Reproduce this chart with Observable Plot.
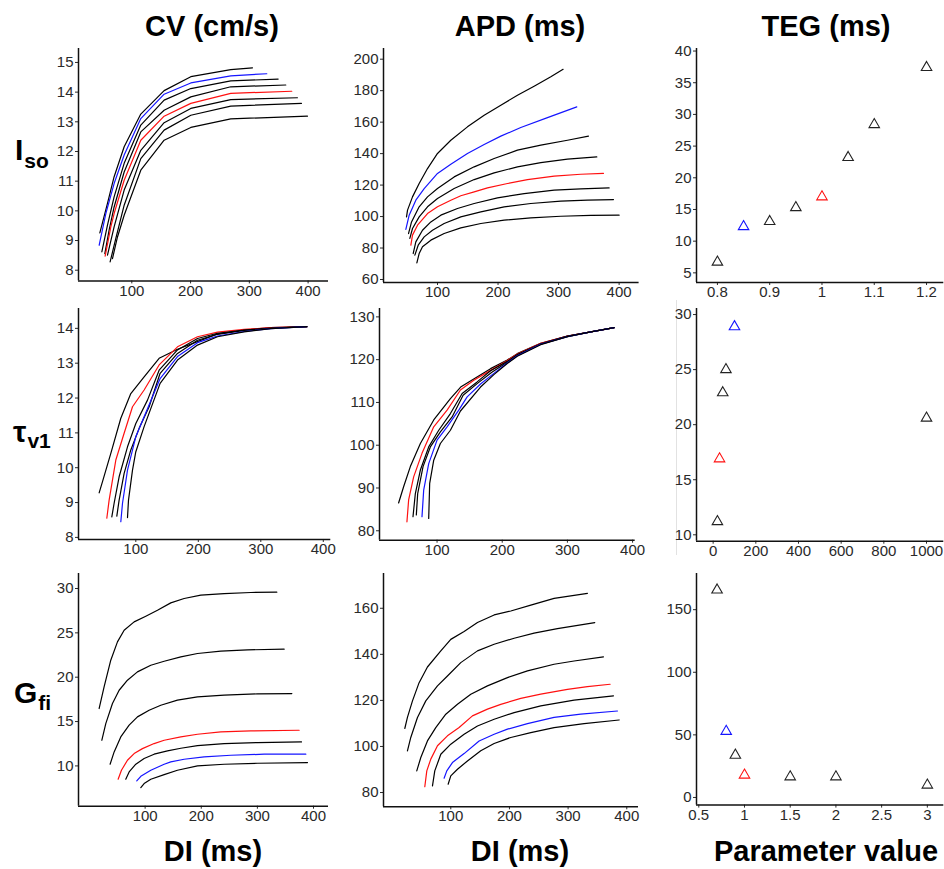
<!DOCTYPE html>
<html>
<head>
<meta charset="utf-8">
<script src="https://cdn.jsdelivr.net/npm/d3@7"></script>
<script src="https://cdn.jsdelivr.net/npm/@observablehq/plot@0.6"></script>
<style>
  html, body { margin: 0; padding: 0; background: #fff; }
  #root { position: relative; width: 944px; height: 869px; overflow: hidden; background: #fff; }
  #root svg.panel { position: absolute; overflow: visible; }
</style>
</head>
<body>
<div id="root"></div>
<script>
// ---------------- DATA ----------------
// Row 1: I_so
const isoParam = [0.8, 0.85, 0.9, 0.95, 1, 1.05, 1.1, 1.2];
const isoTEG = [6.7, 12.3, 13.1, 15.3, 17.0, 23.2, 28.4, 37.4];
const isoCV_DI = [
  [45.6, 58.6, 69.9, 87.0, 115.3, 155.0, 200.4, 268.4, 305.3],
  [44.4, 55.8, 69.9, 87.0, 115.3, 155.0, 200.4, 268.4, 329.7],
  [49.0, 58.6, 69.9, 87.0, 115.3, 155.0, 200.4, 268.4, 349.0],
  [54.1, 61.4, 69.9, 87.0, 115.3, 155.0, 200.4, 268.4, 362.0],
  [54.6, 64.3, 69.9, 87.0, 115.3, 155.0, 200.4, 268.4, 372.2],
  [58.6, 69.9, 87.0, 115.3, 155.0, 200.4, 268.4, 381.8],
  [63.1, 72.8, 87.0, 115.3, 155.0, 200.4, 268.4, 388.6],
  [67.1, 75.6, 87.0, 115.3, 155.0, 200.4, 268.4, 398.9]
];
const isoCV = [
  [9.26, 10.25, 11.15, 12.16, 13.26, 14.05, 14.52, 14.76, 14.82],
  [8.84, 9.91, 10.92, 11.88, 13.11, 13.93, 14.31, 14.55, 14.62],
  [8.62, 9.52, 10.47, 11.60, 12.89, 13.73, 14.12, 14.38, 14.44],
  [8.56, 9.35, 10.13, 11.31, 12.66, 13.39, 13.84, 14.18, 14.24],
  [8.47, 9.46, 9.91, 11.03, 12.38, 13.19, 13.62, 13.96, 14.03],
  [8.51, 9.46, 10.70, 12.04, 12.97, 13.45, 13.75, 13.81],
  [8.28, 9.07, 10.19, 11.76, 12.72, 13.22, 13.53, 13.62],
  [8.39, 9.12, 9.85, 11.37, 12.38, 12.81, 13.10, 13.19]
];
const isoAPD_DI = [
  [48.8, 50.5, 58.7, 69.7, 83.5, 100, 122.0, 149.5, 177.1, 204.6, 232.1, 259.6, 287.2, 307.5],
  [47.7, 53.2, 64.2, 78.0, 100, 122.0, 149.5, 177.1, 204.6, 237.6, 281.7, 330.1],
  [52.1, 57.1, 69.7, 83.5, 100, 127.5, 160.6, 193.6, 232.1, 270.7, 314.7, 349.4],
  [54.3, 58.7, 69.7, 83.5, 100, 127.5, 160.6, 193.6, 232.1, 270.7, 314.7, 363.1],
  [56.0, 58.7, 67.0, 83.5, 100, 122.0, 138.5, 160.6, 182.6, 215.6, 248.6, 292.7, 336.7, 374.1],
  [59.8, 64.2, 75.2, 89.0, 105.5, 133.0, 160.6, 199.1, 243.1, 292.7, 336.7, 383.5],
  [62.6, 68.1, 78.0, 91.7, 111.0, 138.5, 171.6, 210.1, 254.1, 303.7, 347.7, 390.7],
  [65.9, 69.7, 75.2, 89.0, 111.0, 138.5, 171.6, 210.1, 254.1, 303.7, 353.2, 400]
];
const isoAPD = [
  [99.8, 104.1, 112.5, 121.0, 130.5, 140.1, 148.5, 157.0, 164.4, 170.8, 177.1, 182.8, 188.8, 193.6],
  [91.8, 100.9, 110.4, 117.8, 127.4, 133.3, 140.1, 145.8, 151.1, 156.6, 162.9, 169.7],
  [89.2, 96.6, 106.2, 112.5, 117.8, 125.2, 131.6, 136.9, 142.2, 145.4, 148.5, 151.1],
  [86.1, 92.4, 99.8, 106.2, 111.5, 117.8, 123.5, 127.8, 131.6, 134.3, 136.5, 137.9],
  [81.8, 88.2, 94.5, 101.9, 106.2, 110.4, 113.2, 115.7, 118.2, 121.0, 123.5, 125.7, 126.9, 127.4],
  [76.5, 83.9, 91.3, 96.6, 100.9, 105.1, 108.3, 111.9, 114.6, 116.8, 117.6, 118.2],
  [75.5, 81.8, 87.1, 91.3, 95.6, 99.8, 103.0, 106.2, 108.3, 109.8, 110.4, 110.8],
  [70.6, 76.5, 80.8, 85.0, 89.2, 92.8, 95.6, 97.7, 99.2, 100.2, 100.7, 100.9]
];
const isoColor = ["#000", "#1515ff", "#000", "#000", "#ff1010", "#000", "#000", "#000"];

// Row 2: tau_v1
const tauParam = [20, 30, 45, 60, 100, 1000];
const tauTEG = [11.2, 16.9, 22.9, 25.0, 28.9, 20.6];
const tauCV_DI = [
  [41.3, 46.7, 60.0, 76.0, 92.0, 113.3, 137.3, 166.7, 198.7, 230.7, 273.3, 316.0, 373.6],
  [53.6, 57.3, 68.0, 81.3, 94.7, 113.3, 137.3, 166.7, 198.7, 230.7, 273.3, 316.0, 373.6],
  [61.6, 65.3, 73.3, 86.7, 100, 118.7, 137.3, 166.7, 198.7, 230.7, 273.3, 316.0, 373.6],
  [69.6, 73.3, 81.3, 92.0, 105.3, 121.3, 138.9, 166.7, 198.7, 230.7, 273.3, 316.0, 373.6],
  [76.0, 78.7, 86.7, 100, 113.3, 138.9, 166.7, 198.7, 230.7, 273.3, 316.0, 373.6],
  [86.7, 88.3, 94.7, 100, 113.3, 138.9, 166.7, 198.7, 230.7, 273.3, 316.0, 373.6]
];
const tauCV = [
  [9.28, 9.60, 10.41, 11.42, 12.13, 12.61, 13.14, 13.40, 13.62, 13.84, 13.95, 14.02, 14.05],
  [8.55, 9.07, 10.22, 10.99, 11.75, 12.23, 12.95, 13.47, 13.76, 13.89, 13.97, 14.02, 14.05],
  [8.59, 8.98, 9.74, 10.60, 11.27, 11.94, 12.80, 13.38, 13.71, 13.86, 13.95, 14.01, 14.05],
  [8.61, 9.07, 9.84, 10.51, 11.13, 11.75, 12.71, 13.28, 13.66, 13.83, 13.94, 14.00, 14.05],
  [8.45, 8.98, 9.93, 10.89, 11.46, 12.56, 13.19, 13.59, 13.78, 13.91, 13.99, 14.05],
  [8.57, 9.07, 9.93, 10.46, 11.18, 12.42, 13.09, 13.52, 13.76, 13.90, 13.99, 14.05]
];
const tauAPD_DI = [
  [41.0, 48.7, 59.0, 74.4, 94.9, 120.5, 136.2, 182.1, 207.7, 223.1, 259.0, 300, 335.9, 371.8],
  [53.8, 56.4, 64.1, 76.9, 94.9, 115.4, 135.9, 156.4, 182.1, 207.7, 223.1, 259.0, 300, 335.9, 371.8],
  [63.1, 66.7, 74.4, 87.2, 102.6, 120.5, 138.5, 161.5, 182.1, 207.7, 223.1, 259.0, 300, 335.9, 371.8],
  [68.2, 70.3, 78.5, 89.7, 105.1, 123.1, 140.0, 161.5, 184.6, 207.7, 223.1, 259.0, 300, 335.9, 371.8],
  [76.9, 79.5, 87.2, 100, 115.4, 133.3, 146.2, 166.7, 187.2, 207.7, 223.1, 259.0, 300, 335.9, 371.8],
  [87.2, 88.7, 94.9, 105.1, 120.5, 135.9, 166.7, 187.2, 207.7, 223.1, 259.0, 300, 335.9, 371.8]
];
const tauAPD = [
  [86.5, 90.3, 95.0, 100.4, 105.9, 110.9, 113.6, 117.9, 119.9, 121.4, 123.8, 125.5, 126.5, 127.5],
  [82.1, 87.2, 92.6, 98.1, 104.3, 108.2, 112.9, 115.2, 117.5, 119.8, 121.3, 123.8, 125.5, 126.5, 127.5],
  [83.3, 88.7, 94.2, 99.6, 103.5, 107.4, 112.1, 114.8, 117.4, 119.6, 121.2, 123.7, 125.5, 126.5, 127.5],
  [83.7, 88.7, 95.0, 99.6, 103.1, 106.6, 111.7, 114.4, 117.1, 119.4, 121.0, 123.6, 125.4, 126.5, 127.5],
  [83.3, 89.5, 95.7, 101.2, 104.3, 108.2, 111.3, 114.3, 116.8, 119.2, 120.9, 123.6, 125.4, 126.5, 127.5],
  [82.9, 91.1, 96.5, 100.4, 103.5, 108.0, 113.6, 116.5, 119.1, 120.8, 123.5, 125.4, 126.5, 127.5]
];
const tauColor = ["#000", "#ff1010", "#000", "#000", "#1515ff", "#000"];

// Row 3: G_fi
const gfiParam = [0.7, 0.8, 0.9, 1, 1.5, 2, 3];
const gfiTEG = [165.7, 52.8, 33.8, 17.9, 16.5, 16.5, 9.9];
const gfiCV_DI = [
  [92.3, 98.2, 110.1, 133.9, 157.6, 193.3, 240.8, 300.2, 389.3],
  [85.1, 92.3, 110.1, 133.9, 145.7, 169.5, 205.1, 252.7, 312.1, 386.3],
  [65.5, 71.5, 83.4, 98.2, 116.0, 139.8, 163.6, 193.3, 240.8, 300.2, 378.6],
  [51.9, 57.8, 68.5, 80.4, 95.2, 116.0, 133.9, 163.6, 193.3, 234.8, 288.3, 374.4],
  [37.6, 44.8, 56.6, 71.5, 86.3, 107.1, 127.9, 157.6, 193.3, 240.8, 300.2, 361.4],
  [22.8, 29.9, 41.8, 53.7, 68.5, 86.3, 110.1, 133.9, 163.6, 193.3, 234.8, 282.4, 347.7],
  [18.0, 26.9, 38.8, 50.7, 62.6, 80.4, 101.2, 122.0, 145.7, 169.5, 199.2, 240.8, 288.3, 334.6]
];
const gfiCV = [
  [7.56, 8.01, 8.50, 9.02, 9.51, 10.0, 10.19, 10.30, 10.38],
  [8.31, 8.83, 9.51, 10.19, 10.45, 10.75, 11.01, 11.20, 11.32, 11.32],
  [8.50, 9.32, 10.19, 10.83, 11.32, 11.69, 11.99, 12.29, 12.52, 12.63, 12.71],
  [8.50, 9.51, 10.64, 11.39, 11.95, 12.52, 12.89, 13.27, 13.57, 13.83, 13.95, 14.02],
  [10.19, 11.58, 13.27, 14.59, 15.53, 16.28, 16.84, 17.41, 17.78, 17.97, 18.12, 18.16],
  [12.89, 14.77, 17.03, 18.53, 19.66, 20.60, 21.35, 21.80, 22.29, 22.67, 22.93, 23.08, 23.16],
  [16.47, 18.91, 21.92, 23.98, 25.30, 26.24, 26.88, 27.55, 28.38, 28.87, 29.25, 29.43, 29.55, 29.58]
];
const gfiAPD_DI = [
  [95.5, 100, 111.4, 128.4, 151.1, 173.9, 202.3, 236.4, 276.1, 327.3, 386.9],
  [88.6, 93.2, 102.8, 122.7, 148.3, 173.9, 196.6, 230.7, 276.1, 321.6, 384.1],
  [68.8, 72.7, 83.0, 100, 122.7, 145.5, 173.9, 208.0, 253.4, 310.2, 377.3],
  [55.7, 59.1, 65.9, 77.3, 94.3, 114.2, 136.9, 162.5, 185.2, 219.3, 253.4, 298.9, 332.9, 371.6],
  [42.0, 48.9, 60.2, 74.4, 91.5, 111.4, 134.1, 162.5, 196.6, 230.7, 276.1, 310.2, 360.2],
  [26.1, 31.8, 43.2, 57.4, 77.3, 94.3, 117.0, 145.5, 173.9, 208.0, 242.0, 281.8, 345.5],
  [21.6, 26.1, 34.7, 46.0, 60.2, 83.0, 100, 122.7, 145.5, 173.9, 202.3, 236.4, 276.1, 333.0]
];
const gfiAPD = [
  [83.6, 87.2, 90.1, 93.7, 98.1, 101.3, 103.9, 106.0, 108.2, 109.9, 111.5],
  [86.2, 89.4, 93.0, 96.9, 102.4, 105.3, 107.5, 109.9, 112.6, 114.0, 115.4],
  [82.9, 89.4, 96.6, 101.0, 105.3, 108.9, 111.8, 114.7, 117.6, 120.1, 122.0],
  [82.5, 89.4, 94.5, 100.3, 104.6, 108.2, 113.3, 116.2, 118.3, 120.9, 122.7, 124.8, 126.0, 127.0],
  [89.4, 95.2, 102.4, 108.2, 114.0, 118.3, 122.7, 126.3, 129.9, 132.8, 135.7, 137.1, 138.9],
  [98.1, 103.9, 112.6, 119.8, 126.3, 130.6, 136.4, 141.5, 144.4, 147.0, 149.2, 151.2, 153.8],
  [107.8, 112.6, 119.8, 127.7, 134.5, 141.5, 146.5, 149.9, 153.8, 157.1, 158.8, 161.4, 164.3, 166.5]
];
const gfiColor = ["#000", "#1515ff", "#000", "#ff1010", "#000", "#000", "#000"];

// Tick values
const diTicks = [100, 200, 300, 400];
const cvIsoTicks = [8, 9, 10, 11, 12, 13, 14, 15];
const apdIsoTicks = [60, 80, 100, 120, 140, 160, 180, 200];
const tegIsoTicks = [5, 10, 15, 20, 25, 30, 35, 40];
const isoParamTicks = [0.8, 0.9, 1, 1.1, 1.2];
const cvTauTicks = [8, 9, 10, 11, 12, 13, 14];
const apdTauTicks = [80, 90, 100, 110, 120, 130];
const tegTauTicks = [10, 15, 20, 25, 30];
const tauParamTicks = [0, 200, 400, 600, 800, 1000];
const cvGfiTicks = [10, 15, 20, 25, 30];
const apdGfiTicks = [80, 100, 120, 140, 160];
const tegGfiTicks = [0, 50, 100, 150];
const gfiParamTicks = [0.5, 1, 1.5, 2, 2.5, 3];

// Text
const colTitles = ["CV (cm/s)", "APD (ms)", "TEG (ms)"];
const bottomTitles = ["DI (ms)", "DI (ms)", "Parameter value"];

// ---------------- DRAWING ----------------
const root = document.getElementById("root");
const fmt = d => String(d);
const FONT = "'Liberation Sans', Arial, Helvetica, sans-serif";

function curves(diArr, valArr, colors) {
  return diArr.map((xs, i) =>
    Plot.line(xs.map((x, j) => [x, valArr[i][j]]), {
      x: d => d[0], y: d => d[1], stroke: colors[i], strokeWidth: 1.2
    })
  );
}
function points(xs, ys, colors) {
  return xs.map((x, i) =>
    Plot.dot([[x, ys[i]]], {
      x: d => d[0], y: d => d[1], symbol: "triangle", r: 3.9,
      fill: "none", stroke: colors[i] === "#000" ? "#222" : colors[i], strokeWidth: 1.1
    })
  );
}

function panel(cfg) {
  const ml = 46, mr = 8, mt = 4, mb = 30;
  const w = cfg.R - cfg.L, h = cfg.B - cfg.T;
  const svg = Plot.plot({
    width: w + ml + mr, height: h + mt + mb,
    marginLeft: ml, marginRight: mr, marginTop: mt, marginBottom: mb,
    style: { fontFamily: FONT, fontSize: "15px", color: "#2a2a2a", background: "transparent", overflow: "visible" },
    x: { domain: cfg.xd, ticks: cfg.xt, tickFormat: fmt, tickSize: 3, tickPadding: 1, label: null },
    y: { domain: cfg.yd, ticks: cfg.yt, tickFormat: fmt, tickSize: 3, tickPadding: 2, label: null },
    marks: [
      ...cfg.marks,
      Plot.ruleX([cfg.xd[0]], { stroke: "#111", strokeWidth: 1.5 }),
      Plot.ruleY([cfg.yd[0]], { stroke: "#111", strokeWidth: 1.5 })
    ]
  });
  svg.classList.add("panel");
  svg.style.left = (cfg.L - ml) + "px";
  svg.style.top = (cfg.T - mt) + "px";
  root.appendChild(svg);
}

// faint separator line seen left of the tau TEG panel
const sep = document.createElement("div");
sep.style.cssText = "position:absolute;left:676px;top:300px;width:1px;height:255px;background:#e2e2e2;";
root.appendChild(sep);

// Row 1
panel({ L: 77.7, T: 48.3, R: 327.7, B: 280.7, xd: [9.3, 434.7], yd: [7.64, 15.47], xt: diTicks, yt: cvIsoTicks,
  marks: curves(isoCV_DI, isoCV, isoColor) });
panel({ L: 382.7, T: 48.3, R: 638.3, B: 282.3, xd: [10.8, 433], yd: [58.1, 206.8], xt: diTicks, yt: apdIsoTicks,
  marks: curves(isoAPD_DI, isoAPD, isoColor) });
panel({ L: 696, T: 48.3, R: 943.3, B: 282.3, xd: [0.76, 1.233], yd: [3.48, 40.4], xt: isoParamTicks, yt: tegIsoTicks,
  marks: points(isoParam, isoTEG, isoColor) });
// Row 2
panel({ L: 77.7, T: 308.3, R: 330, B: 539.3, xd: [8.3, 412], yd: [7.94, 14.57], xt: diTicks, yt: cvTauTicks,
  marks: curves(tauCV_DI, tauCV, tauColor) });
panel({ L: 379.3, T: 308.3, R: 635, B: 540, xd: [11.7, 404], yd: [77.8, 131.96], xt: diTicks, yt: apdTauTicks,
  marks: curves(tauAPD_DI, tauAPD, tauColor) });
panel({ L: 696, T: 308.3, R: 943.3, B: 541, xd: [-78, 1081], yd: [9.42, 30.55], xt: tauParamTicks, yt: tegTauTicks,
  marks: points(tauParam, tauTEG, tauColor) });
// Row 3
panel({ L: 77.7, T: 573.3, R: 327.7, B: 806, xd: [-18.7, 426.7], yd: [5.46, 31.69], xt: diTicks, yt: cvGfiTicks,
  marks: curves(gfiCV_DI, gfiCV, gfiColor) });
panel({ L: 382.7, T: 572.7, R: 637.7, B: 806, xd: [-14.7, 420], yd: [73.8, 175.1], xt: diTicks, yt: apdGfiTicks,
  marks: curves(gfiAPD_DI, gfiAPD, gfiColor) });
panel({ L: 696, T: 572.7, R: 943.3, B: 804.3, xd: [0.475, 3.18], yd: [-6.1, 178.9], xt: gfiParamTicks, yt: tegGfiTicks,
  marks: points(gfiParam, gfiTEG, gfiColor) });

// Text overlay
const txt = d3.select(root).append("svg")
  .attr("width", 944).attr("height", 869)
  .style("position", "absolute").style("left", "0px").style("top", "0px")
  .style("pointer-events", "none")
  .style("font-family", FONT).style("font-weight", "bold").attr("fill", "#000");

const titleX = [212, 520, 826];
colTitles.forEach((t, i) => txt.append("text").attr("x", titleX[i]).attr("y", 36)
  .attr("text-anchor", "middle").attr("font-size", 29).text(t));
const bottomX = [213, 520, 826];
bottomTitles.forEach((t, i) => txt.append("text").attr("x", bottomX[i]).attr("y", 861)
  .attr("text-anchor", "middle").attr("font-size", 29).text(t));

function rowLabel(main, sub, x, y, subDx, subDy) {
  const t = txt.append("text").attr("x", x).attr("y", y).attr("font-size", 30);
  t.append("tspan").text(main);
  t.append("tspan").attr("font-size", 21).attr("dx", subDx).attr("dy", subDy).text(sub);
}
rowLabel("I", "so", 15, 160, 1, 8);
rowLabel("τ", "v1", 13, 442, 1, 6);
rowLabel("G", "fi", 14, 703, 1, 7);
</script>
</body>
</html>
